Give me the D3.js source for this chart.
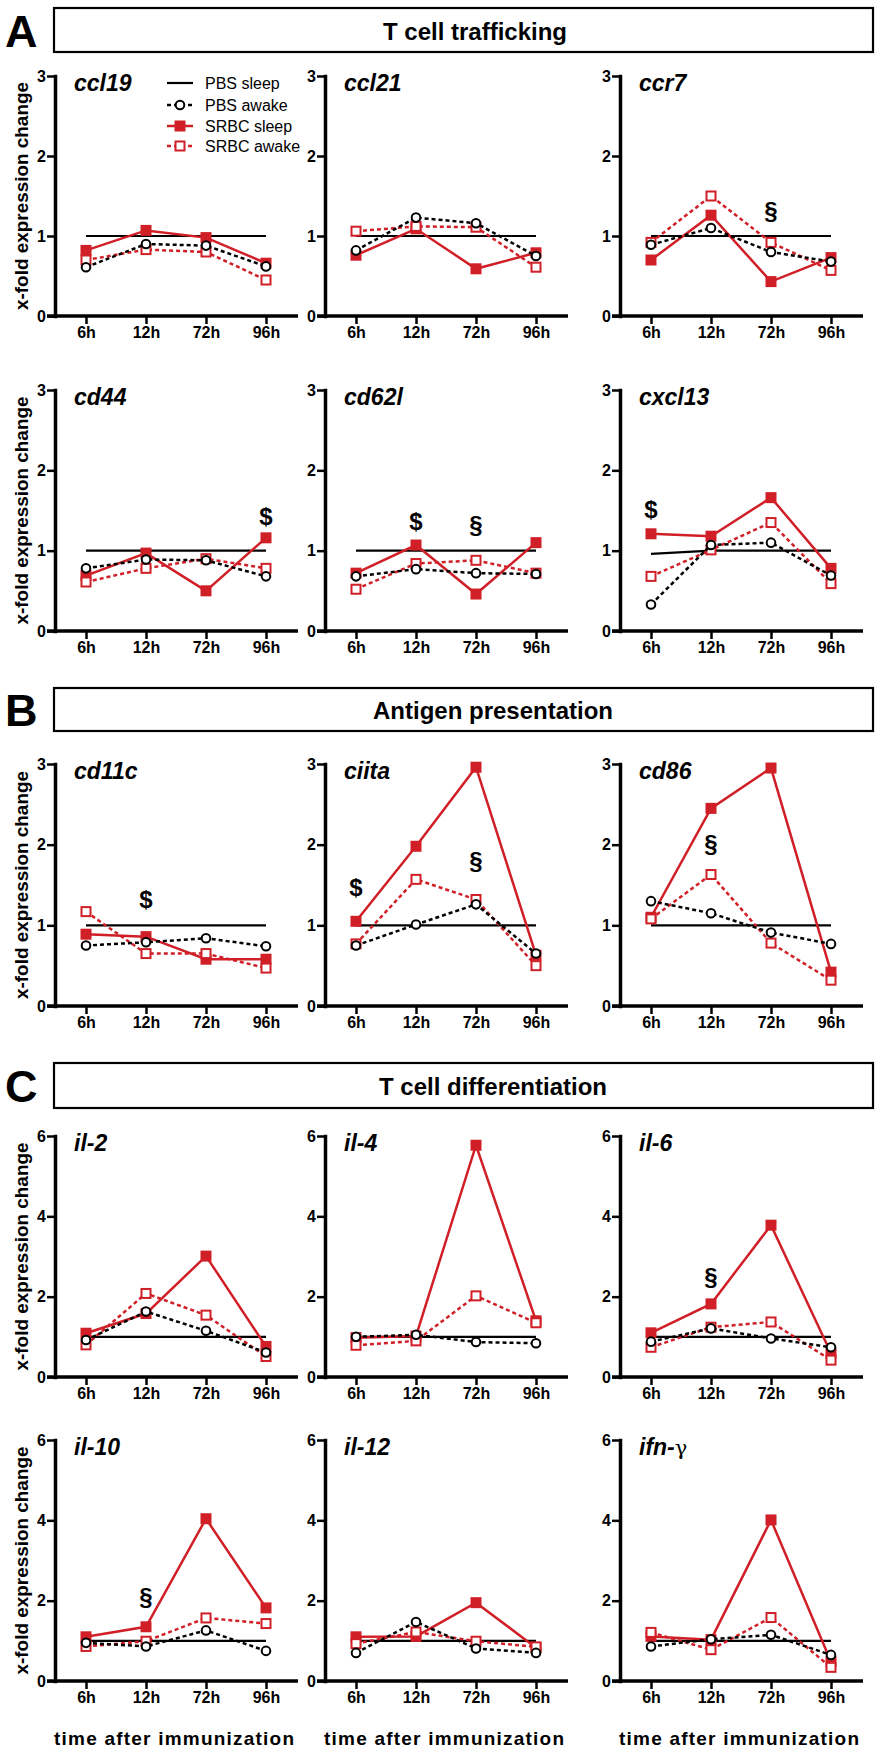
<!DOCTYPE html>
<html>
<head>
<meta charset="utf-8">
<script src="https://cdn.jsdelivr.net/npm/d3@7"></script>
<style>
  body { margin: 0; background: #fff; }
  text { font-family: 'Liberation Sans', Arial, sans-serif; fill: #000; }
</style>
</head>
<body>
<script>
'use strict'

// ---- data ----
var times = ['6h', '12h', '72h', '96h']
var genes = ['ccl19', 'ccl21', 'ccr7', 'cd44', 'cd62l', 'cxcl13',
             'cd11c', 'ciita', 'cd86',
             'il-2', 'il-4', 'il-6', 'il-10', 'il-12', 'ifn-γ']
var sections = ['T cell trafficking', 'Antigen presentation', 'T cell differentiation']
var sectionLetters = ['A', 'B', 'C']
var ticksLow = [0, 1, 2, 3]
var ticksHigh = [0, 2, 4, 6]
var seriesNames = ['PBS sleep', 'PBS awake', 'SRBC sleep', 'SRBC awake']

var pbsSleep = [
  [1, 1, 1, 1], [1, 1, 1, 1], [1, 1, 1, 1], [1, 1, 1, 1], [1, 1, 1, 1], [0.96, 1, 1, 1],
  [1, 1, 1, 1], [1, 1, 1, 1], [1, 1, 1, 1],
  [1, 1, 1, 1], [1, 1, 1, 1], [1, 1, 1, 1], [1, 1, 1, 1], [1, 1, 1, 1], [1, 1, 1, 1]
]
var pbsAwake = [
  [0.61, 0.90, 0.88, 0.62], [0.82, 1.23, 1.16, 0.75], [0.89, 1.10, 0.80, 0.68],
  [0.78, 0.89, 0.88, 0.68], [0.68, 0.77, 0.72, 0.71], [0.33, 1.07, 1.10, 0.69],
  [0.75, 0.79, 0.84, 0.74], [0.75, 1.01, 1.26, 0.65], [1.30, 1.15, 0.91, 0.77],
  [0.92, 1.63, 1.15, 0.61], [1.00, 1.05, 0.87, 0.84], [0.88, 1.21, 0.96, 0.74],
  [0.95, 0.86, 1.26, 0.75], [0.70, 1.47, 0.81, 0.70], [0.86, 1.04, 1.15, 0.65]
]
var srbcSleep = [
  [0.82, 1.07, 0.98, 0.66], [0.76, 1.09, 0.59, 0.79], [0.70, 1.26, 0.43, 0.73],
  [0.69, 0.97, 0.50, 1.16], [0.72, 1.07, 0.46, 1.10], [1.21, 1.18, 1.66, 0.78],
  [0.89, 0.86, 0.58, 0.58], [1.05, 1.98, 2.96, 0.63], [1.10, 2.45, 2.95, 0.42],
  [1.09, 1.58, 3.01, 0.76], [0.98, 1.02, 5.77, 1.40], [1.10, 1.82, 3.78, 0.59],
  [1.10, 1.35, 4.04, 1.82], [1.10, 1.11, 1.95, 0.83], [1.11, 1.03, 4.01, 0.48]
]
var srbcAwake = [
  [0.70, 0.83, 0.80, 0.45], [1.06, 1.12, 1.11, 0.61], [0.92, 1.50, 0.92, 0.57],
  [0.61, 0.78, 0.90, 0.78], [0.52, 0.84, 0.88, 0.72], [0.68, 1.01, 1.35, 0.59],
  [1.17, 0.65, 0.65, 0.47], [0.77, 1.57, 1.32, 0.50], [1.08, 1.63, 0.78, 0.32],
  [0.80, 2.08, 1.54, 0.51], [0.79, 0.90, 2.02, 1.35], [0.74, 1.24, 1.37, 0.42],
  [0.86, 0.99, 1.57, 1.43], [0.93, 1.22, 0.99, 0.85], [1.21, 0.78, 1.58, 0.34]
]
// significance marks: gene, time, height, symbol
var sigGene = ['ccr7', 'cd44', 'cd62l', 'cd62l', 'cxcl13', 'cd11c', 'ciita', 'ciita', 'cd86', 'il-6', 'il-10']
var sigTime = ['72h', '96h', '12h', '72h', '6h', '12h', '6h', '72h', '12h', '12h', '12h']
var sigValue = [1.32, 1.42, 1.36, 1.32, 1.51, 1.32, 1.47, 1.80, 2.01, 2.50, 2.11]
var sigSymbol = ['§', '$', '$', '§', '$', '$', '$', '§', '§', '§', '§']

// ---- layout ----
var RED = '#d01f27'
var FONT = "'Liberation Sans', Arial, sans-serif"
var colX = [55, 325, 620]
var rowY = [[76, 316], [390, 631], [764, 1006], [1136, 1377], [1440, 1681]]
var boxY = [[8, 44], [688, 43], [1063, 45]]
var titleX = [475, 493, 493]

var svg = d3.select('body').append('svg')
  .attr('width', 875).attr('height', 1750)

// Section header boxes
sections.forEach(function(s, i) {
  var [by, bh] = boxY[i]
  svg.append('rect')
    .attr('x', 54).attr('y', by).attr('width', 819).attr('height', bh)
    .attr('fill', 'none').attr('stroke', '#000').attr('stroke-width', 2.2)
  svg.append('text')
    .attr('x', titleX[i]).attr('y', by + bh / 2 + 1)
    .attr('text-anchor', 'middle').attr('dominant-baseline', 'central')
    .style('font-size', '24px').style('font-weight', 'bold')
    .text(s)
  svg.append('text')
    .attr('x', 5).attr('y', by + bh / 2 + 1)
    .attr('dominant-baseline', 'central')
    .style('font-size', '45px').style('font-weight', 'bold')
    .text(sectionLetters[i])
})

// Draw one small panel per gene
//------------------------------------
genes.forEach(function(gene, i) {
  var row = Math.floor(i / 3), col = i % 3
  var ax = colX[col]
  var [top, bot] = rowY[row]
  var tvals = row < 3 ? ticksLow : ticksHigh

  var x = d3.scalePoint().domain(times).range([ax + 31, ax + 211])
  var y = d3.scaleLinear().domain([0, d3.max(tvals)]).range([bot, top])

  var P = svg.append('g')

  // y axis
  var ya = P.append('g')
    .attr('transform', 'translate(' + ax + ',0)')
    .call(d3.axisLeft(y).tickValues(tvals).tickFormat(d3.format('d'))
      .tickSize(8).tickPadding(1).tickSizeOuter(0))
  ya.select('.domain').attr('stroke-width', 3.5).attr('stroke-linecap', 'square')
  ya.selectAll('.tick line').attr('stroke-width', 2.5)
  ya.selectAll('.tick text')
    .style('font-size', '16px').style('font-weight', 'bold').style('font-family', FONT)

  // x axis
  var xa = P.append('g')
    .attr('transform', 'translate(0,' + bot + ')')
    .call(d3.axisBottom(x).tickSize(8).tickPadding(3).tickSizeOuter(0))
  xa.select('.domain').remove()
  xa.append('line')
    .attr('x1', ax - 8).attr('x2', ax + 243)
    .attr('stroke', '#000').attr('stroke-width', 3.5)
  xa.selectAll('.tick line').attr('stroke-width', 2.5)
  xa.selectAll('.tick text')
    .style('font-size', '16px').style('font-weight', 'bold').style('font-family', FONT)

  // gene name
  var gl = P.append('text')
    .attr('x', ax + 19).attr('y', top + 15)
    .style('font-size', '23px').style('font-weight', 'bold').style('font-style', 'italic')
  if (gene === 'ifn-γ') {
    gl.append('tspan').text('ifn-')
    gl.append('tspan').style('font-weight', 'normal').style('font-style', 'normal')
      .style('font-family', "'DejaVu Serif', serif").style('font-size', '21px').text('γ')
  } else {
    gl.text(gene)
  }

  var line = d3.line()
    .x(function(d, k) { return x(times[k]) })
    .y(function(d) { return y(d) })

  // PBS sleep: plain black line
  P.append('path').datum(pbsSleep[i])
    .attr('d', line).attr('fill', 'none')
    .attr('stroke', '#000').attr('stroke-width', 2.2)

  // SRBC sleep: solid red, filled squares
  P.append('path').datum(srbcSleep[i])
    .attr('d', line).attr('fill', 'none')
    .attr('stroke', RED).attr('stroke-width', 2.5)
  P.selectAll('.ss').data(srbcSleep[i]).enter().append('rect')
    .attr('x', function(d, k) { return x(times[k]) - 5.5 })
    .attr('y', function(d) { return y(d) - 5.5 })
    .attr('width', 11).attr('height', 11).attr('fill', RED)

  // SRBC awake: dashed red, open squares
  P.append('path').datum(srbcAwake[i])
    .attr('d', line).attr('fill', 'none')
    .attr('stroke', RED).attr('stroke-width', 2.5).attr('stroke-dasharray', '4,3')
  P.selectAll('.sa').data(srbcAwake[i]).enter().append('rect')
    .attr('x', function(d, k) { return x(times[k]) - 4.5 })
    .attr('y', function(d) { return y(d) - 4.5 })
    .attr('width', 9).attr('height', 9)
    .attr('fill', '#fff').attr('stroke', RED).attr('stroke-width', 2)

  // PBS awake: dashed black, open circles
  P.append('path').datum(pbsAwake[i])
    .attr('d', line).attr('fill', 'none')
    .attr('stroke', '#000').attr('stroke-width', 2.5).attr('stroke-dasharray', '4,3')
  P.selectAll('.pa').data(pbsAwake[i]).enter().append('circle')
    .attr('cx', function(d, k) { return x(times[k]) })
    .attr('cy', function(d) { return y(d) })
    .attr('r', 4.3)
    .attr('fill', '#fff').attr('stroke', '#000').attr('stroke-width', 2)

  // significance marks
  sigGene.forEach(function(sg, k) {
    if (sg !== gene) return
    P.append('text')
      .attr('x', x(sigTime[k])).attr('y', y(sigValue[k]))
      .attr('text-anchor', 'middle').attr('dominant-baseline', 'central')
      .style('font-size', '24px').style('font-weight', 'bold')
      .text(sigSymbol[k])
  })

  // y label on the left column
  if (col === 0) {
    svg.append('text')
      .attr('transform', 'translate(21,' + ((top + bot) / 2) + ') rotate(-90)')
      .attr('text-anchor', 'middle').attr('dominant-baseline', 'central')
      .attr('textLength', 228).attr('lengthAdjust', 'spacingAndGlyphs')
      .style('font-size', '19px').style('font-weight', 'bold')
      .text('x-fold expression change')
  }
  // x label under the last row
  if (row === 4) {
    svg.append('text')
      .attr('x', ax + 119).attr('y', 1745)
      .attr('text-anchor', 'middle')
      .attr('textLength', 240).attr('lengthAdjust', 'spacing')
      .style('font-size', '19px').style('font-weight', 'bold')
      .text('time after immunization')
  }

  // legend in the first panel
  if (i === 0) {
    var rowsY = [top + 7, top + 29, top + 50, top + 70]
    var L = P.append('g')
    seriesNames.forEach(function(name, k) {
      var ly = rowsY[k]
      var isRed = k >= 2
      var dashed = k === 1 || k === 3
      L.append('line')
        .attr('x1', ax + 112).attr('x2', ax + 138).attr('y1', ly).attr('y2', ly)
        .attr('stroke', isRed ? RED : '#000').attr('stroke-width', k === 0 ? 2.2 : 2.5)
        .attr('stroke-dasharray', dashed ? '4,3' : null)
      if (k === 1) {
        L.append('circle').attr('cx', ax + 125).attr('cy', ly).attr('r', 4.3)
          .attr('fill', '#fff').attr('stroke', '#000').attr('stroke-width', 2)
      } else if (k === 2) {
        L.append('rect').attr('x', ax + 119.5).attr('y', ly - 5.5).attr('width', 11).attr('height', 11)
          .attr('fill', RED)
      } else if (k === 3) {
        L.append('rect').attr('x', ax + 120.5).attr('y', ly - 4.5).attr('width', 9).attr('height', 9)
          .attr('fill', '#fff').attr('stroke', RED).attr('stroke-width', 2)
      }
      L.append('text')
        .attr('x', ax + 150).attr('y', ly)
        .attr('dominant-baseline', 'central')
        .style('font-size', '16px')
        .text(name)
    })
  }
})
</script>
</body>
</html>
